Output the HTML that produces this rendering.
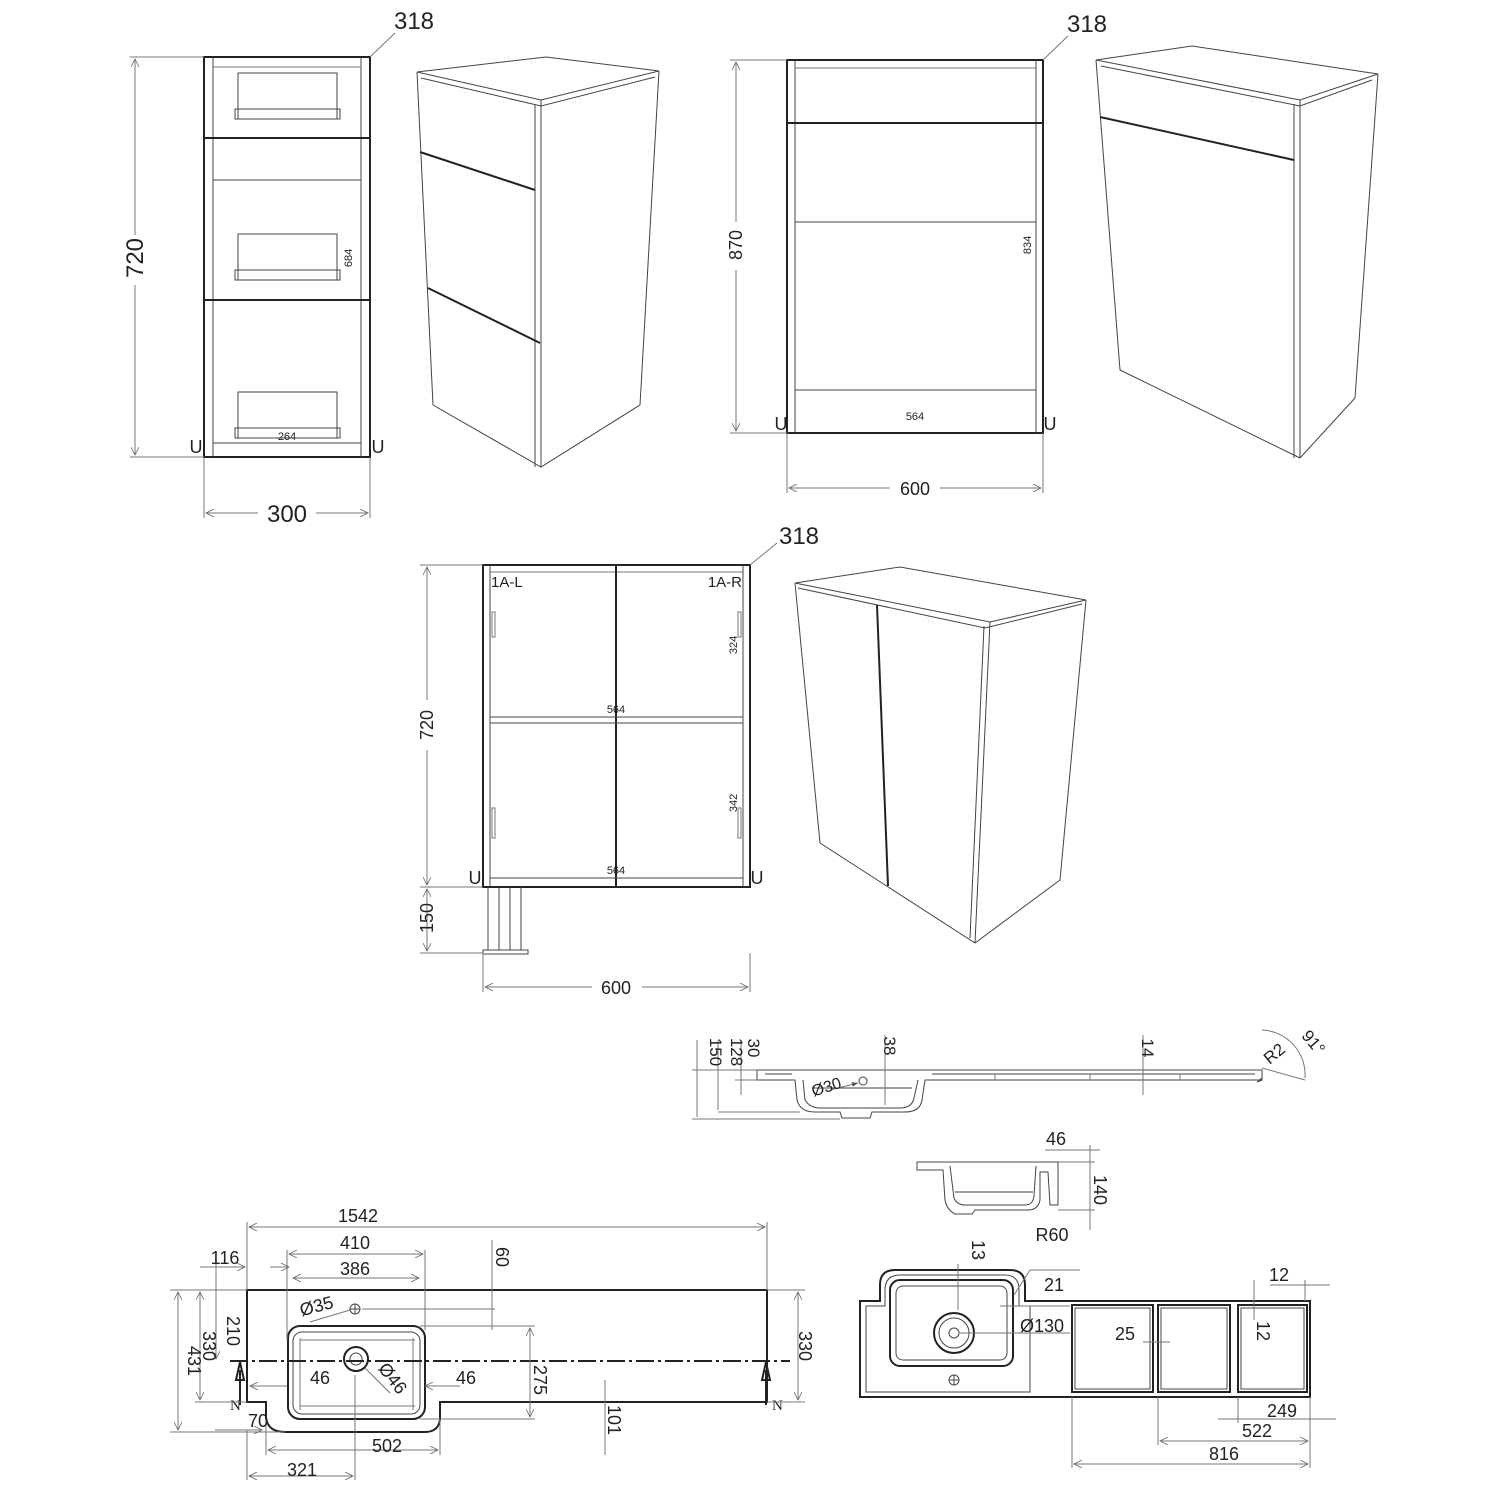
<!DOCTYPE html>
<html><head><meta charset="utf-8"><style>
html,body{margin:0;padding:0;background:#fff;width:1500px;height:1500px;overflow:hidden}
svg{display:block}
text{font-family:"Liberation Sans",sans-serif;fill:#222}
.k{stroke:#222;fill:none;stroke-width:2}
.t{stroke:#444;fill:none;stroke-width:1}
.g{stroke:#777;fill:none;stroke-width:1}
.L{font-size:24px}
.M{font-size:18px}
.S{font-size:11px}
</style></head><body>
<svg width="1500" height="1500" viewBox="0 0 1500 1500" xmlns="http://www.w3.org/2000/svg">
<defs>
<marker id="a" viewBox="0 0 10 10" refX="10" refY="5" markerWidth="10" markerHeight="8" orient="auto-start-reverse"><path d="M0,0 L10,5 L0,10" fill="none" stroke="#666"/></marker>
<marker id="f" viewBox="0 0 10 10" refX="10" refY="5" markerWidth="8" markerHeight="6" orient="auto-start-reverse"><path d="M0,1 L10,5 L0,9z" fill="#555"/></marker>
</defs>

<!-- ===== Cabinet 1 front ===== -->
<rect x="204" y="57" width="166" height="400" class="k"/>
<line x1="213" y1="57" x2="213" y2="457" class="t"/>
<line x1="361" y1="57" x2="361" y2="457" class="t"/>
<line x1="213" y1="67" x2="361" y2="67" class="g"/>
<line x1="204" y1="138" x2="370" y2="138" class="k"/>
<line x1="213" y1="180" x2="361" y2="180" class="t"/>
<line x1="204" y1="300" x2="370" y2="300" class="k"/>
<line x1="213" y1="443" x2="361" y2="443" class="t"/>
<g class="t">
<rect x="238" y="73" width="99" height="46"/><rect x="235" y="109" width="105" height="10"/>
<rect x="238" y="234" width="99" height="46"/><rect x="235" y="270" width="105" height="10"/>
<rect x="238" y="392" width="99" height="46"/><rect x="235" y="428" width="105" height="10"/>
</g>
<text class="S" x="287" y="440" text-anchor="middle">264</text>
<text class="S" transform="translate(352,258) rotate(-90)" text-anchor="middle">684</text>
<text class="M" x="196" y="453" text-anchor="middle">U</text>
<text class="M" x="378" y="453" text-anchor="middle">U</text>
<line x1="130" y1="57" x2="204" y2="57" class="g"/><line x1="130" y1="457" x2="204" y2="457" class="g"/>
<line x1="135" y1="59" x2="135" y2="235" class="g" marker-start="url(#a)"/><line x1="135" y1="285" x2="135" y2="455" class="g" marker-end="url(#a)"/>
<text class="L" transform="translate(143,258) rotate(-90)" text-anchor="middle">720</text>
<line x1="204" y1="457" x2="204" y2="518" class="g"/><line x1="370" y1="457" x2="370" y2="518" class="g"/>
<line x1="206" y1="513" x2="258" y2="513" class="g" marker-start="url(#a)"/><line x1="316" y1="513" x2="368" y2="513" class="g" marker-end="url(#a)"/>
<text class="L" x="287" y="522" text-anchor="middle">300</text>
<line x1="370" y1="57" x2="395" y2="33" class="g"/>
<text class="L" x="414" y="29" text-anchor="middle">318</text>

<!-- iso 1 -->
<g class="t">
<path d="M417,72 L546,57 L659,71 L541,100 Z"/>
<path d="M421,78 L541,106 L655,77"/>
<path d="M417,72 L433,405 L541,467 L640,405 L659,71"/>
<line x1="541" y1="100" x2="541" y2="467"/>
<line x1="535" y1="105" x2="535" y2="467"/>
</g>
<line x1="420" y1="152" x2="535" y2="190" class="k"/>
<line x1="428" y1="288" x2="540" y2="343" class="k"/>

<!-- ===== Cabinet 2 front ===== -->
<rect x="787" y="60" width="256" height="373" class="k"/>
<line x1="795" y1="60" x2="795" y2="433" class="t"/>
<line x1="1036" y1="60" x2="1036" y2="433" class="t"/>
<line x1="795" y1="68" x2="1036" y2="68" class="g"/>
<line x1="787" y1="123" x2="1043" y2="123" class="k"/>
<line x1="795" y1="222" x2="1036" y2="222" class="t"/>
<line x1="795" y1="390" x2="1036" y2="390" class="t"/>
<text class="S" x="915" y="420" text-anchor="middle">564</text>
<text class="S" transform="translate(1031,245) rotate(-90)" text-anchor="middle">834</text>
<text class="M" x="781" y="430" text-anchor="middle">U</text>
<text class="M" x="1050" y="430" text-anchor="middle">U</text>
<line x1="730" y1="60" x2="787" y2="60" class="g"/><line x1="730" y1="433" x2="787" y2="433" class="g"/>
<line x1="736" y1="62" x2="736" y2="222" class="g" marker-start="url(#a)"/><line x1="736" y1="270" x2="736" y2="431" class="g" marker-end="url(#a)"/>
<text class="M" transform="translate(742,245) rotate(-90)" text-anchor="middle">870</text>
<line x1="787" y1="433" x2="787" y2="493" class="g"/><line x1="1043" y1="433" x2="1043" y2="493" class="g"/>
<line x1="789" y1="488" x2="890" y2="488" class="g" marker-start="url(#a)"/><line x1="940" y1="488" x2="1041" y2="488" class="g" marker-end="url(#a)"/>
<text class="M" x="915" y="495" text-anchor="middle">600</text>
<line x1="1043" y1="60" x2="1068" y2="36" class="g"/>
<text class="L" x="1087" y="32" text-anchor="middle">318</text>

<!-- iso 2 -->
<g class="t">
<path d="M1096,60 L1192,46 L1378,74 L1300,100 Z"/>
<path d="M1101,66 L1300,106 L1372,80"/>
<path d="M1096,60 L1120,370 L1300,458 L1355,398 L1378,74"/>
<line x1="1300" y1="100" x2="1300" y2="458"/>
<line x1="1294" y1="104" x2="1294" y2="458"/>
</g>
<line x1="1100" y1="117" x2="1294" y2="160" class="k"/>

<!-- ===== Cabinet 3 front ===== -->
<rect x="483" y="565" width="267" height="322" class="k"/>
<line x1="490" y1="565" x2="490" y2="887" class="t"/>
<line x1="743" y1="565" x2="743" y2="887" class="t"/>
<line x1="490" y1="572" x2="743" y2="572" class="g"/>
<line x1="616" y1="565" x2="616" y2="887" class="k"/>
<line x1="490" y1="717" x2="743" y2="717" class="t"/>
<line x1="490" y1="723" x2="743" y2="723" class="t"/>
<line x1="490" y1="878" x2="743" y2="878" class="t"/>
<g class="g"><rect x="492" y="612" width="3" height="25"/><rect x="492" y="808" width="3" height="30"/><rect x="738" y="612" width="3" height="25"/><rect x="738" y="808" width="3" height="30"/></g>
<text class="M" x="491" y="587" style="font-size:15px">1A-L</text>
<text class="M" x="742" y="587" text-anchor="end" style="font-size:15px">1A-R</text>
<text class="S" x="616" y="713" text-anchor="middle">564</text>
<text class="S" x="616" y="874" text-anchor="middle">564</text>
<text class="S" transform="translate(737,645) rotate(-90)" text-anchor="middle">324</text>
<text class="S" transform="translate(737,803) rotate(-90)" text-anchor="middle">342</text>
<text class="M" x="475" y="884" text-anchor="middle">U</text>
<text class="M" x="757" y="884" text-anchor="middle">U</text>
<g class="t"><line x1="488" y1="887" x2="488" y2="950"/><line x1="499" y1="887" x2="499" y2="950"/><line x1="510" y1="887" x2="510" y2="950"/><line x1="521" y1="887" x2="521" y2="950"/>
<rect x="483" y="950" width="45" height="4"/></g>
<line x1="420" y1="565" x2="483" y2="565" class="g"/><line x1="420" y1="887" x2="483" y2="887" class="g"/><line x1="420" y1="953" x2="483" y2="953" class="g"/>
<line x1="427" y1="567" x2="427" y2="700" class="g" marker-start="url(#a)"/><line x1="427" y1="750" x2="427" y2="885" class="g" marker-end="url(#a)"/>
<text class="M" transform="translate(433,725) rotate(-90)" text-anchor="middle">720</text>
<line x1="427" y1="889" x2="427" y2="951" class="g" marker-start="url(#a)" marker-end="url(#a)"/>
<text class="M" transform="translate(433,918) rotate(-90)" text-anchor="middle">150</text>
<line x1="483" y1="953" x2="483" y2="992" class="g"/><line x1="750" y1="953" x2="750" y2="992" class="g"/>
<line x1="485" y1="987" x2="592" y2="987" class="g" marker-start="url(#a)"/><line x1="642" y1="987" x2="748" y2="987" class="g" marker-end="url(#a)"/>
<text class="M" x="616" y="994" text-anchor="middle">600</text>
<line x1="750" y1="565" x2="777" y2="543" class="g"/>
<text class="L" x="799" y="544" text-anchor="middle">318</text>

<!-- iso 3 -->
<g class="t">
<path d="M795,583 L900,567 L1086,600 L990,622 Z"/>
<path d="M798,588 L985,628 L1082,604"/>
<path d="M795,583 L820,843 L975,943 L1060,880 L1086,600"/>
<line x1="990" y1="622" x2="975" y2="943"/>
<line x1="984" y1="626" x2="970" y2="938"/>
</g>
<line x1="877" y1="605" x2="888" y2="886" class="k"/>

<!-- ===== sink side view ===== -->
<g class="t">
<path d="M757,1070 L1262,1070 L1262,1080 L1257,1082 L1262,1078 M757,1070 L757,1080 L795,1080 L797,1100 Q800,1112 815,1112 L840,1112 L842,1118 L870,1118 L872,1112 L905,1112 Q920,1112 922,1100 L925,1080 L1262,1080"/>
<path d="M765,1074 L792,1074 M932,1074 L1255,1074 M803,1080 L805,1100 Q810,1108 820,1108 L900,1108 Q912,1108 914,1098 L918,1080"/>
<path d="M812,1088 L912,1088"/>
</g>
<g class="g"><line x1="995" y1="1074" x2="995" y2="1080"/><line x1="1090" y1="1074" x2="1090" y2="1080"/><line x1="1180" y1="1074" x2="1180" y2="1080"/></g>
<circle cx="863" cy="1081" r="4" class="t"/>
<line x1="830" y1="1090" x2="858" y2="1083" class="g" marker-end="url(#f)"/>
<text class="M" transform="translate(828,1092) rotate(-18)" text-anchor="middle" style="font-size:16px">Ø30</text>
<g class="g">
<line x1="692" y1="1070" x2="757" y2="1070"/><line x1="692" y1="1119" x2="840" y2="1119"/><line x1="718" y1="1112" x2="800" y2="1112"/><line x1="735" y1="1080" x2="757" y2="1080"/>
<line x1="697" y1="1040" x2="697" y2="1117"/><line x1="718" y1="1040" x2="718" y2="1110"/><line x1="741" y1="1040" x2="741" y2="1095"/>
<line x1="885" y1="1035" x2="885" y2="1105"/><line x1="1143" y1="1035" x2="1143" y2="1095"/>
<line x1="1262" y1="1068" x2="1305" y2="1080"/>
<path d="M1262,1030 A45,45 0 0 1 1305,1078"/>
</g>
<text class="M" transform="translate(710,1052) rotate(90)" text-anchor="middle" style="font-size:17px">150</text>
<text class="M" transform="translate(731,1052) rotate(90)" text-anchor="middle" style="font-size:17px">128</text>
<text class="M" transform="translate(748,1048) rotate(90)" text-anchor="middle" style="font-size:17px">30</text>
<text class="M" transform="translate(884,1046) rotate(90)" text-anchor="middle" style="font-size:17px">38</text>
<text class="M" transform="translate(1142,1048) rotate(90)" text-anchor="middle" style="font-size:17px">14</text>
<text class="M" transform="translate(1278,1058) rotate(-40)" text-anchor="middle" style="font-size:17px">R2</text>
<text class="M" transform="translate(1309,1046) rotate(50)" text-anchor="middle" style="font-size:17px">91°</text>

<!-- ===== sink small side ===== -->
<g class="t">
<path d="M917,1162 L1058,1162 L1058,1205 L1050,1205 L1048,1172 L1040,1172 L1040,1200 Q1038,1210 1028,1210 L975,1210 L972,1214 L955,1214 Q947,1210 945,1200 L943,1170 L917,1170 Z"/>
<path d="M950,1166 L954,1198 Q957,1205 965,1205 L1025,1205 Q1033,1205 1034,1196 L1036,1166"/>
<line x1="955" y1="1192" x2="1033" y2="1192"/>
</g>
<g class="g"><line x1="1058" y1="1162" x2="1095" y2="1162"/><line x1="1058" y1="1210" x2="1095" y2="1210"/><line x1="1090" y1="1145" x2="1090" y2="1230"/><line x1="1045" y1="1150" x2="1100" y2="1150"/></g>
<text class="M" x="1056" y="1145" text-anchor="middle">46</text>
<text class="M" transform="translate(1094,1190) rotate(90)" text-anchor="middle">140</text>

<!-- ===== plan left ===== -->
<path d="M247,1290 L767,1290 L767,1402 L440,1402 L440,1420 Q438,1432 425,1432 L285,1432 Q268,1432 266,1418 L266,1402 L247,1402 Z" class="k"/>
<rect x="288" y="1326" width="137" height="93" rx="12" class="k"/>
<rect x="293" y="1332" width="127" height="82" rx="9" class="t"/>
<line x1="300" y1="1340" x2="415" y2="1340" class="g"/><line x1="300" y1="1406" x2="415" y2="1406" class="g"/>
<line x1="300" y1="1338" x2="300" y2="1410" class="g"/><line x1="413" y1="1338" x2="413" y2="1410" class="g"/>
<circle cx="356" cy="1359" r="12" class="k"/><circle cx="356" cy="1359" r="6" class="t"/>
<circle cx="355" cy="1309" r="5" class="t"/><line x1="350" y1="1309" x2="360" y2="1309" class="t"/><line x1="355" y1="1304" x2="355" y2="1314" class="t"/>
<line x1="230" y1="1361" x2="790" y2="1361" stroke="#222" stroke-width="2" stroke-dasharray="18,4,3,4"/>
<path d="M240,1405 L240,1370 M236,1380 L240,1362 L244,1380 Z" class="k" fill="#222"/>
<path d="M766,1405 L766,1370 M762,1380 L766,1362 L770,1380 Z" class="k" fill="#222"/>
<text class="M" x="230" y="1410" style="font-size:15px;font-family:'Liberation Serif',serif">N</text>
<text class="M" x="772" y="1410" style="font-size:15px;font-family:'Liberation Serif',serif">N</text>
<g class="g">
<line x1="247" y1="1222" x2="247" y2="1290"/><line x1="767" y1="1222" x2="767" y2="1290"/>
<line x1="249" y1="1227" x2="765" y2="1227" marker-start="url(#a)" marker-end="url(#a)"/>
<line x1="287" y1="1250" x2="287" y2="1340"/><line x1="425" y1="1250" x2="425" y2="1330"/>
<line x1="289" y1="1254" x2="423" y2="1254" marker-start="url(#a)" marker-end="url(#a)"/>
<line x1="293" y1="1278" x2="419" y2="1278" marker-start="url(#a)" marker-end="url(#a)"/>
<line x1="200" y1="1267" x2="245" y2="1267" marker-end="url(#a)"/><line x1="289" y1="1267" x2="270" y2="1267" marker-start="url(#a)"/>
<line x1="492" y1="1240" x2="492" y2="1330"/><line x1="362" y1="1309" x2="495" y2="1309"/>
<line x1="170" y1="1290" x2="247" y2="1290"/><line x1="170" y1="1432" x2="285" y2="1432"/>
<line x1="178" y1="1292" x2="178" y2="1430" marker-start="url(#a)" marker-end="url(#a)"/>
<line x1="195" y1="1402" x2="247" y2="1402"/>
<line x1="200" y1="1292" x2="200" y2="1400" marker-start="url(#a)" marker-end="url(#a)"/>
<line x1="216" y1="1262" x2="216" y2="1359" marker-end="url(#a)"/>
<line x1="420" y1="1326" x2="535" y2="1326"/><line x1="420" y1="1419" x2="535" y2="1419"/>
<line x1="530" y1="1328" x2="530" y2="1417" marker-start="url(#a)" marker-end="url(#a)"/>
<line x1="767" y1="1290" x2="805" y2="1290"/><line x1="767" y1="1402" x2="805" y2="1402"/>
<line x1="798" y1="1292" x2="798" y2="1400" marker-start="url(#a)" marker-end="url(#a)"/>
<line x1="605" y1="1380" x2="605" y2="1455"/>
<line x1="250" y1="1386" x2="287" y2="1386" marker-start="url(#a)"/><line x1="425" y1="1386" x2="460" y2="1386" marker-start="url(#a)"/>
<line x1="215" y1="1430" x2="262" y2="1430" marker-end="url(#a)"/>
<line x1="266" y1="1420" x2="266" y2="1455"/><line x1="440" y1="1420" x2="440" y2="1455"/>
<line x1="268" y1="1450" x2="438" y2="1450" marker-start="url(#a)" marker-end="url(#a)"/>
<line x1="247" y1="1430" x2="247" y2="1480"/><line x1="355" y1="1375" x2="355" y2="1480"/>
<line x1="249" y1="1476" x2="353" y2="1476" marker-start="url(#a)" marker-end="url(#a)"/>
<line x1="365" y1="1368" x2="390" y2="1393"/>
<line x1="310" y1="1322" x2="350" y2="1310"/>
</g>
<text class="M" x="358" y="1222" text-anchor="middle">1542</text>
<text class="M" x="355" y="1249" text-anchor="middle">410</text>
<text class="M" x="355" y="1275" text-anchor="middle">386</text>
<text class="M" x="225" y="1264" text-anchor="middle">116</text>
<text class="M" transform="translate(496,1257) rotate(90)" text-anchor="middle">60</text>
<text class="M" transform="translate(318,1312) rotate(-15)" text-anchor="middle">Ø35</text>
<text class="M" transform="translate(188,1361) rotate(90)" text-anchor="middle">431</text>
<text class="M" transform="translate(203,1346) rotate(90)" text-anchor="middle">330</text>
<text class="M" transform="translate(227,1331) rotate(90)" text-anchor="middle">210</text>
<text class="M" transform="translate(534,1380) rotate(90)" text-anchor="middle">275</text>
<text class="M" transform="translate(799,1346) rotate(90)" text-anchor="middle">330</text>
<text class="M" x="320" y="1384" text-anchor="middle">46</text>
<text class="M" x="466" y="1384" text-anchor="middle">46</text>
<text class="M" transform="translate(388,1382) rotate(52)" text-anchor="middle">Ø46</text>
<text class="M" transform="translate(608,1420) rotate(90)" text-anchor="middle">101</text>
<text class="M" x="258" y="1427" text-anchor="middle">70</text>
<text class="M" x="387" y="1452" text-anchor="middle">502</text>
<text class="M" x="302" y="1476" text-anchor="middle">321</text>

<!-- ===== plan right ===== -->
<path d="M860,1301 L880,1301 L880,1285 Q880,1270 895,1270 L1010,1270 Q1025,1270 1025,1285 L1025,1301 L1310,1301 L1310,1397 L860,1397 Z" class="k"/>
<path d="M866,1306 L885,1306 L885,1290 Q885,1275 900,1275 L1005,1275 Q1019,1275 1019,1290 L1019,1306 L1030,1306 L1030,1392 L866,1392 Z" class="t"/>
<rect x="890" y="1280" width="123" height="86" rx="10" class="k"/>
<rect x="896" y="1286" width="111" height="74" rx="7" class="t"/>
<circle cx="954" cy="1333" r="20" class="k"/><circle cx="954" cy="1333" r="15" class="t"/><circle cx="954" cy="1333" r="5" class="t"/>
<circle cx="954" cy="1380" r="5" class="t"/><line x1="949" y1="1380" x2="959" y2="1380" class="t"/><line x1="954" y1="1375" x2="954" y2="1385" class="t"/>
<rect x="1072" y="1305" width="81" height="87" class="k"/><rect x="1075" y="1308" width="75" height="81" class="t"/>
<rect x="1158" y="1305" width="72" height="87" class="k"/><rect x="1161" y="1308" width="66" height="81" class="t"/>
<rect x="1238" y="1305" width="69" height="87" class="k"/><rect x="1241" y="1308" width="63" height="81" class="t"/>
<g class="g">
<line x1="958" y1="1264" x2="958" y2="1310"/>
<line x1="1014" y1="1295" x2="1030" y2="1270"/><line x1="1030" y1="1270" x2="1080" y2="1270"/>
<line x1="1000" y1="1306" x2="1070" y2="1306"/>
<line x1="960" y1="1333" x2="1070" y2="1333"/>
<line x1="1143" y1="1342" x2="1170" y2="1342"/>
<line x1="1270" y1="1285" x2="1330" y2="1285"/><line x1="1305" y1="1280" x2="1305" y2="1301"/>
<line x1="1254" y1="1280" x2="1254" y2="1320"/>
<line x1="1072" y1="1397" x2="1072" y2="1468"/><line x1="1158" y1="1397" x2="1158" y2="1445"/><line x1="1238" y1="1397" x2="1238" y2="1423"/><line x1="1310" y1="1397" x2="1310" y2="1468"/>
<line x1="1218" y1="1419" x2="1336" y2="1419"/>
<line x1="1160" y1="1441" x2="1308" y2="1441" marker-start="url(#a)" marker-end="url(#a)"/>
<line x1="1074" y1="1464" x2="1308" y2="1464" marker-start="url(#a)" marker-end="url(#a)"/>
</g>
<text class="M" transform="translate(972,1250) rotate(90)" text-anchor="middle">13</text>
<text class="M" x="1052" y="1241" text-anchor="middle">R60</text>
<text class="M" x="1054" y="1291" text-anchor="middle">21</text>
<text class="M" x="1042" y="1332" text-anchor="middle">Ø130</text>
<text class="M" x="1125" y="1340" text-anchor="middle">25</text>
<text class="M" x="1279" y="1281" text-anchor="middle">12</text>
<text class="M" transform="translate(1257,1331) rotate(90)" text-anchor="middle">12</text>
<text class="M" x="1282" y="1417" text-anchor="middle">249</text>
<text class="M" x="1257" y="1437" text-anchor="middle">522</text>
<text class="M" x="1224" y="1460" text-anchor="middle">816</text>
</svg>
</body></html>
